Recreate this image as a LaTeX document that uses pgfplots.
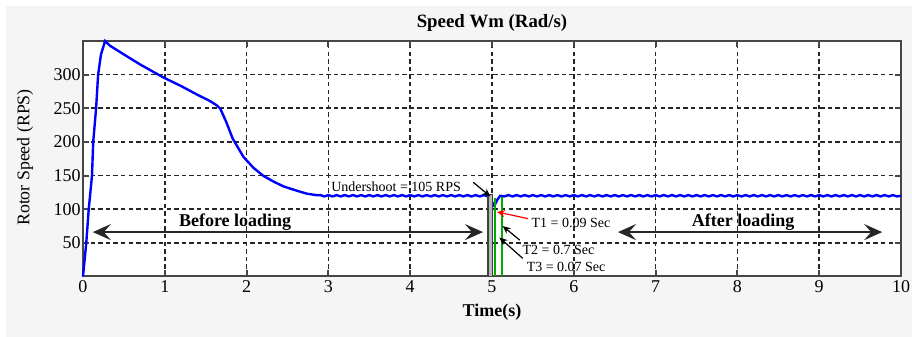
\documentclass[border=0pt]{standalone}
\usepackage{fontspec}
\setmainfont{Liberation Serif}
\usepackage{pgfplots}
\pgfplotsset{compat=1.18}
\usetikzlibrary{arrows.meta}
\definecolor{bg}{RGB}{245,245,245}
\definecolor{axgray}{RGB}{70,70,70}
\definecolor{mygreen}{RGB}{0,170,0}
\begin{document}
\begin{tikzpicture}
\useasboundingbox (-41.5pt,-30.25pt) rectangle (414.5pt,138.25pt);
\fill[white] (-41.5pt,-30.25pt) rectangle (414.5pt,138.25pt);
\fill[bg] (-38.5pt,-30.25pt) rectangle (414.5pt,135.25pt);
\begin{axis}[
  at={(0pt,0pt)}, anchor=south west,
  scale only axis, width=409pt, height=117.75pt,
  xmin=0, xmax=10, ymin=0, ymax=350,
  xtick={0,1,...,10}, ytick={50,100,...,300},
  axis background/.style={fill=white},
  axis line style={axgray, line width=1pt},
  tick style={axgray, line width=1pt},
  major tick length=3pt,
  grid=major,
  major grid style={black!85, line width=0.8pt, dash pattern=on 2.2pt off 1.6pt},
  /pgf/number format/assume math mode=true,
  ticklabel style={font=\fontsize{9}{10}\selectfont},
  xticklabel style={inner sep=1pt, yshift=-1pt},
  yticklabel style={inner sep=1pt},
  clip=false,
]
% main speed trace
\addplot[blue, line width=1.2pt] coordinates {
(0,0) (0.04,50) (0.07,100) (0.11,150) (0.125,200) (0.16,250) (0.185,300) (0.22,330) (0.27,350)
(0.33,343) (0.5,330) (0.7,315) (0.98,296) (1.2,283) (1.4,270) (1.55,261) (1.64,254) (1.68,249)
(1.75,230) (1.83,205) (1.96,178) (2.08,162) (2.2,150) (2.33,141) (2.45,134) (2.6,128) (2.74,123) (2.85,121)
(2.90,121)(2.95,119)(3.00,121)(3.05,119)(3.10,121)(3.15,119)(3.20,121)(3.25,119)(3.30,121)(3.35,119)
(3.40,121)(3.45,119)(3.50,121)(3.55,119)(3.60,121)(3.65,119)(3.70,121)(3.75,119)(3.80,121)(3.85,119)
(3.90,121)(3.95,119)(4.00,121)(4.05,119)(4.10,121)(4.15,119)(4.20,121)(4.25,119)(4.30,121)(4.35,119)
(4.40,121)(4.45,119)(4.50,121)(4.55,119)(4.60,121)(4.65,119)(4.70,121)(4.75,119)(4.80,121)(4.85,119)
(4.90,121)(4.95,119)
(4.98,117)(5.00,111)(5.02,106)(5.04,108)(5.07,115)(5.10,120)
(5.15,119)(5.20,121)(5.25,119)(5.30,121)(5.35,119)(5.40,121)(5.45,119)(5.50,121)(5.55,119)(5.60,121)
(5.65,119)(5.70,121)(5.75,119)(5.80,121)(5.85,119)(5.90,121)(5.95,119)(6.00,121)(6.05,119)(6.10,121)
(6.15,119)(6.20,121)(6.25,119)(6.30,121)(6.35,119)(6.40,121)(6.45,119)(6.50,121)(6.55,119)(6.60,121)
(6.65,119)(6.70,121)(6.75,119)(6.80,121)(6.85,119)(6.90,121)(6.95,119)(7.00,121)(7.05,119)(7.10,121)
(7.15,119)(7.20,121)(7.25,119)(7.30,121)(7.35,119)(7.40,121)(7.45,119)(7.50,121)(7.55,119)(7.60,121)
(7.65,119)(7.70,121)(7.75,119)(7.80,121)(7.85,119)(7.90,121)(7.95,119)(8.00,121)(8.05,119)(8.10,121)
(8.15,119)(8.20,121)(8.25,119)(8.30,121)(8.35,119)(8.40,121)(8.45,119)(8.50,121)(8.55,119)(8.60,121)
(8.65,119)(8.70,121)(8.75,119)(8.80,121)(8.85,119)(8.90,121)(8.95,119)(9.00,121)(9.05,119)(9.10,121)
(9.15,119)(9.20,121)(9.25,119)(9.30,121)(9.35,119)(9.40,121)(9.45,119)(9.50,121)(9.55,119)(9.60,121)
(9.65,119)(9.70,121)(9.75,119)(9.80,121)(9.85,119)(9.90,121)(9.95,119)(10.00,120)
};
% time markers
\addplot[draw=gray!50!black, fill=gray!55, line width=0.6pt] coordinates {(4.95,0) (4.95,122) (5.01,122) (5.01,0)} -- cycle;
\addplot[mygreen, line width=0.9pt] coordinates {(5.04,0) (5.04,116)};
\addplot[mygreen, line width=0.9pt] coordinates {(5.12,0) (5.12,118)};
% loading arrows
\draw[black!85, line width=1pt, {Stealth[length=9pt,width=8pt,inset=3.5pt]}-{Stealth[length=9pt,width=8pt,inset=3.5pt]}]
  (axis cs:0.12,66) -- (axis cs:4.89,66);
\draw[black!85, line width=1pt, {Stealth[length=9pt,width=8pt,inset=3.5pt]}-{Stealth[length=9pt,width=8pt,inset=3.5pt]}]
  (axis cs:6.54,66) -- (axis cs:9.77,66);
\node[font=\fontsize{9}{10}\selectfont\bfseries, inner sep=0pt] at (axis cs:1.86,81) {Before loading};
\node[font=\fontsize{9}{10}\selectfont\bfseries, inner sep=0pt] at (axis cs:8.07,81) {After loading};
% annotations
\node[font=\fontsize{7}{8}\selectfont, anchor=west, inner sep=0pt] at (axis cs:3.03,134) {Undershoot = 105 RPS};
\draw[black, line width=0.6pt, -{Stealth[length=4pt,width=3.5pt]}] (axis cs:4.77,140) -- (axis cs:4.98,119);
\node[font=\fontsize{7}{8}\selectfont, anchor=west, inner sep=0pt] at (axis cs:5.48,79) {T1 = 0.09 Sec};
\draw[red, line width=0.6pt, -{Stealth[length=4pt,width=3.5pt]}] (axis cs:5.44,86) -- (axis cs:5.06,96);
\node[font=\fontsize{7}{8}\selectfont, anchor=west, inner sep=0pt] at (axis cs:5.37,39) {T2 = 0.7 Sec};
\draw[black, line width=0.6pt, -{Stealth[length=4pt,width=3.5pt]}] (axis cs:5.34,54) -- (axis cs:5.13,75);
\node[font=\fontsize{7}{8}\selectfont, anchor=west, inner sep=0pt] at (axis cs:5.42,14) {T3 = 0.07 Sec};
\draw[black, line width=0.6pt, -{Stealth[length=4pt,width=3.5pt]}] (axis cs:5.375,27) -- (axis cs:5.09,58);
\end{axis}
\node[font=\fontsize{9.4}{11}\selectfont\bfseries] at (204.5pt,126.75pt) {Speed Wm (Rad/s)};
\node[font=\fontsize{9}{11}\selectfont\bfseries] at (204.5pt,-17.75pt) {Time(s)};
\node[font=\fontsize{8.9}{11}\selectfont, rotate=90] at (-29pt,59.5pt) {Rotor Speed (RPS)};
\end{tikzpicture}
\end{document}
